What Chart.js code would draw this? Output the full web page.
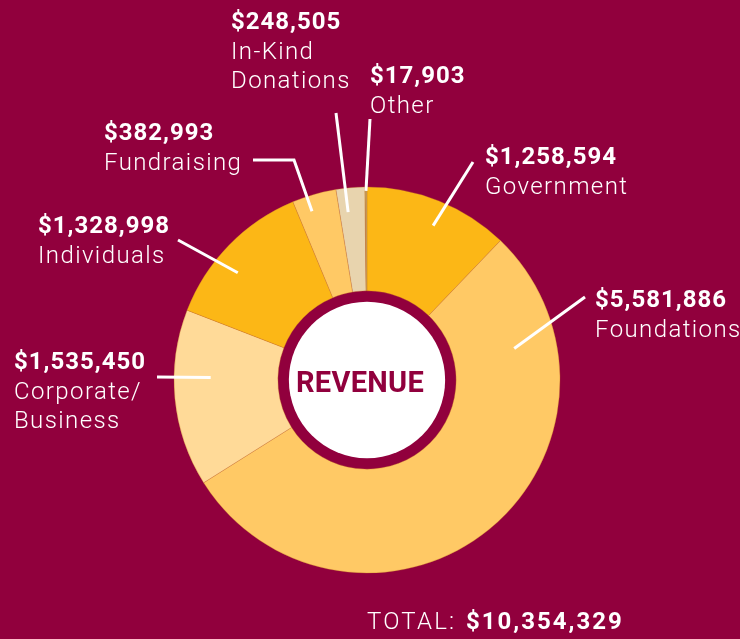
<!DOCTYPE html>
<html>
<head>
<meta charset="utf-8">
<script src="https://cdn.jsdelivr.net/npm/chart.js@4.4.1/dist/chart.umd.min.js"></script>
<style>
  html, body { margin: 0; padding: 0; background: #91003D; }
  #wrap { width: 740px; height: 639px; position: relative; }
</style>
</head>
<body>
<div id="wrap"><canvas id="c" width="740" height="639"></canvas></div>
<script>
// ---- data ----
const categories = ["Government", "Foundations", "Corporate/\nBusiness", "Individuals", "Fundraising", "In-Kind\nDonations", "Other"];
const amounts = [1258594, 5581886, 1535450, 1328998, 382993, 248505, 17903];
const valueLabels = ["$1,258,594", "$5,581,886", "$1,535,450", "$1,328,998", "$382,993", "$248,505", "$17,903"];
const totalLabel = "$10,354,329";
const centerTitle = "REVENUE";

// ---- styling ----
const sliceColors = ["#FCB716", "#FFC965", "#FFDA98", "#FCB716", "#FFC965", "#E8D4AE", "#C49A5C"];
const BG = "#91003D";
// label layout: text x, first baseline, leader start points, anchor within arc (t along angle, r fraction)
const labelLayout = [
  { x: 485, y: 164, lead: [[473, 162]], t: 0.53, r: 0.87 },
  { x: 595, y: 307, lead: [[585, 297]], t: 0.176, r: 0.78 },
  { x: 14,  y: 369, lead: [[157, 377]], t: 0.62, r: 0.81 },
  { x: 38,  y: 233, lead: [[178, 240]], t: 0.40, r: 0.87 },
  { x: 104, y: 140, lead: [[253, 160], [294, 160]], t: 0.34, r: 0.92 },
  { x: 231, y: 29,  lead: [[336, 113]], t: 0.33, r: 0.875 },
  { x: 370, y: 83,  lead: [[370, 119]], t: 0.5, r: 0.98 }
];
const LINE_H = 29.5;
const FONT = "Roboto, 'Liberation Sans', sans-serif";

const overlay = {
  id: 'overlay',
  afterDatasetsDraw(chart) {
    const ctx = chart.ctx;
    const meta = chart.getDatasetMeta(0);
    const arc0 = meta.data[0];
    const cx = arc0.x, cy = arc0.y;
    const inner = arc0.innerRadius;
    ctx.save();
    // white centre disc
    ctx.fillStyle = '#FFFFFF';
    ctx.beginPath();
    ctx.arc(cx, cy, inner - 11, 0, Math.PI * 2);
    ctx.fill();
    // centre title
    ctx.fillStyle = BG;
    ctx.font = "bold 29px " + FONT;
    ctx.letterSpacing = '0.3px';
    ctx.textAlign = 'center';
    ctx.textBaseline = 'alphabetic';
    ctx.fillText(centerTitle, cx - 7, cy + 12);

    // leader lines
    ctx.strokeStyle = '#FFFFFF';
    ctx.lineWidth = 3;
    ctx.lineCap = 'butt';
    meta.data.forEach((arc, i) => {
      const L = labelLayout[i];
      const a = arc.startAngle + L.t * (arc.endAngle - arc.startAngle);
      const rr = arc.outerRadius * L.r;
      const ax = cx + rr * Math.cos(a), ay = cy + rr * Math.sin(a);
      ctx.beginPath();
      ctx.moveTo(L.lead[0][0], L.lead[0][1]);
      for (let k = 1; k < L.lead.length; k++) ctx.lineTo(L.lead[k][0], L.lead[k][1]);
      ctx.lineTo(ax, ay);
      ctx.stroke();
    });

    // labels
    ctx.textAlign = 'left';
    ctx.fillStyle = '#FFFFFF';
    categories.forEach((cat, i) => {
      const L = labelLayout[i];
      ctx.font = "bold 24px " + FONT;
      ctx.letterSpacing = '1px';
      ctx.fillText(valueLabels[i], L.x, L.y);
      ctx.font = "300 24px " + FONT;
      ctx.letterSpacing = '1.4px';
      cat.split("\n").forEach((line, k) => {
        ctx.fillText(line, L.x, L.y + LINE_H * (k + 1));
      });
    });
    // total
    ctx.font = "300 24px " + FONT;
    ctx.letterSpacing = '2.2px';
    ctx.fillText("TOTAL:", 367, 629);
    ctx.font = "bold 24px " + FONT;
    ctx.letterSpacing = '2px';
    ctx.fillText(totalLabel, 466, 629);
    ctx.restore();
  }
};

new Chart(document.getElementById('c'), {
  type: 'doughnut',
  data: {
    labels: categories.map(c => c.replace("\n", " ")),
    datasets: [{
      data: amounts,
      backgroundColor: sliceColors,
      borderColor: 'rgba(205,130,40,0.55)',
      borderWidth: 0.6,
      hoverOffset: 0
    }]
  },
  options: {
    responsive: false,
    animation: false,
    radius: 193,
    cutout: 89,
    layout: { padding: { left: 174, right: 180, top: 187, bottom: 66 } },
    plugins: { legend: { display: false }, tooltip: { enabled: false } },
    events: []
  },
  plugins: [overlay]
});
</script>
</body>
</html>
